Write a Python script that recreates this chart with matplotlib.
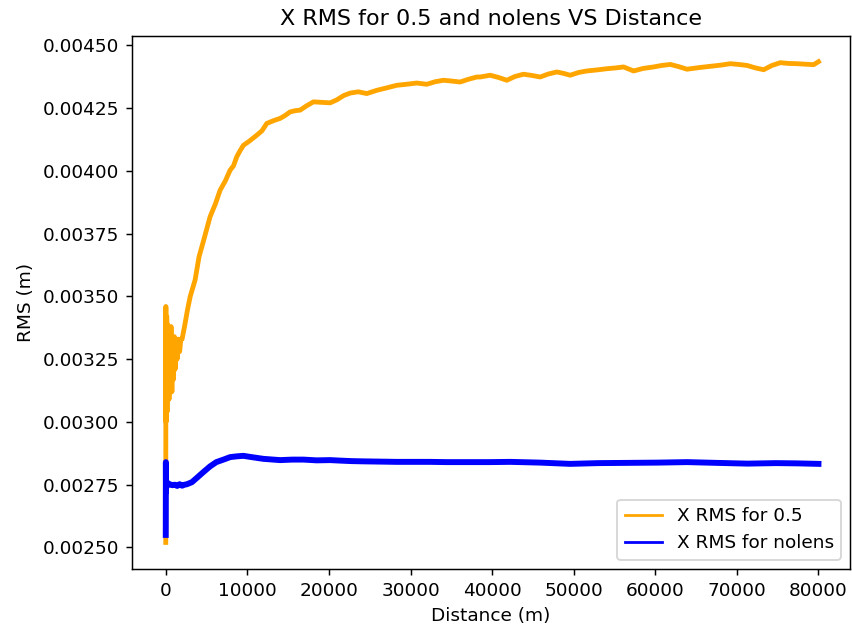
import matplotlib
matplotlib.use("Agg")
import matplotlib.pyplot as plt

# Distance (m) and X RMS (m)
dist_05 = [0, 15, 30, 50, 80, 120, 160, 200, 260, 320, 400, 480, 560, 650, 750, 850,
           950, 1050, 1150, 1250, 1400, 1550, 1700, 1850, 2000, 2300, 2660, 3000, 3600,
           4080, 4700, 5430, 6100, 6660, 7300, 7890, 8300, 8700, 9100, 9520, 10300,
           11150, 11800, 12380, 13200, 14010, 14600, 15240, 15900, 16470, 17300, 18100,
           19100, 20150, 20970, 21800, 22600, 23600, 24640, 25870, 27000, 28320, 29500,
           30770, 31990, 33000, 34040, 35000, 36080, 37100, 38130, 38530, 39760, 40800,
           41800, 42800, 43850, 44900, 45890, 46900, 47940, 48800, 49570, 50600, 51610,
           52800, 54070, 55100, 56110, 57340, 58500, 59790, 60800, 61840, 62900, 63880,
           65500, 67150, 68200, 69190, 70200, 71240, 72300, 73280, 74300, 75320, 76300,
           77370, 78400, 79410, 80000]
rms_05 = [0.00252, 0.00346, 0.00300, 0.00341, 0.00308, 0.00342, 0.00304, 0.00339,
          0.00311, 0.00337, 0.00309, 0.00335, 0.00318, 0.00338, 0.00312, 0.00333,
          0.00317, 0.00334, 0.00321, 0.00331, 0.00325, 0.00333, 0.00328, 0.00333,
          0.00333, 0.00338, 0.003446, 0.00350, 0.003566, 0.003658, 0.00373, 0.003817,
          0.00387, 0.003923, 0.00396, 0.004003, 0.00402, 0.004056, 0.00408, 0.004102,
          0.00412, 0.004142, 0.00416, 0.004189, 0.00420, 0.004209, 0.00422, 0.004235,
          0.00424, 0.004242, 0.00426, 0.004275, 0.004273, 0.004271, 0.004283, 0.00430,
          0.004310, 0.004315, 0.004308, 0.004321, 0.00433, 0.004341, 0.004345,
          0.004350, 0.004345, 0.004355, 0.004361, 0.004358, 0.004354, 0.004365,
          0.004374, 0.004374, 0.004381, 0.004372, 0.004361, 0.004376, 0.004385,
          0.004380, 0.004374, 0.004386, 0.004394, 0.004388, 0.004381, 0.004392,
          0.004398, 0.004402, 0.004407, 0.004410, 0.004414, 0.004398, 0.004408,
          0.004414, 0.004420, 0.004424, 0.004415, 0.004405, 0.004412, 0.004418,
          0.004422, 0.004427, 0.004424, 0.004420, 0.004410, 0.004403, 0.004420,
          0.004431, 0.004428, 0.004427, 0.004425, 0.004423, 0.004435]

dist_nolens = [0, 15, 30, 60, 100, 160, 300, 500, 800, 1100, 1400, 1700, 2000, 2300,
               2600, 3200, 3800, 4600, 5430, 6200, 7070, 7900, 8700, 9520, 10500,
               11970, 14010, 15500, 16880, 18500, 20150, 21380, 22800, 24240, 26300,
               28320, 30400, 32400, 34400, 36490, 38100, 39760, 42210, 45900, 49570,
               53000, 56700, 60300, 63880, 67500, 71300, 74800, 77400, 80000]
rms_nolens = [0.00255, 0.00284, 0.00272, 0.00276, 0.00275, 0.00276, 0.00275, 0.002752,
              0.002748, 0.002750, 0.002745, 0.002752, 0.002746, 0.002750, 0.002752,
              0.00276, 0.002777, 0.00280, 0.002823, 0.00284, 0.002850, 0.00286,
              0.002863, 0.002865, 0.00286, 0.002853, 0.002848, 0.00285, 0.002850,
              0.002847, 0.002848, 0.002846, 0.002844, 0.002843, 0.002842, 0.002841,
              0.002841, 0.002841, 0.002840, 0.002840, 0.002840, 0.002840, 0.002841,
              0.002838, 0.002833, 0.002836, 0.002837, 0.002838, 0.002840, 0.002837,
              0.002834, 0.002836, 0.002835, 0.002833]

title = "X RMS for 0.5 and nolens VS Distance"
xlabel = "Distance (m)"
ylabel = "RMS (m)"
labels = ["X RMS for 0.5", "X RMS for nolens"]
colors = ["orange", "blue"]

fig = plt.figure(figsize=(6.4, 4.755), dpi=133.125)
ax = fig.add_axes([0.155, 0.101, 0.843, 0.842])

ax.plot(dist_05, rms_05, color=colors[0], lw=2.6, solid_joinstyle="round")
ax.plot(dist_nolens, rms_nolens, color=colors[1], lw=3.2, solid_joinstyle="round")
# legend handles with the normal line width
ax.plot([], [], color=colors[0], lw=1.5, label=labels[0])
ax.plot([], [], color=colors[1], lw=1.5, label=labels[1])

ax.set_title(title)
ax.set_xlabel(xlabel)
ax.set_ylabel(ylabel)
ax.set_ylim(0.002414, 0.004537)
ax.set_xlim(-4130, 83900)
ax.legend(loc="lower right")

fig.savefig("out.png", dpi=133.125)
